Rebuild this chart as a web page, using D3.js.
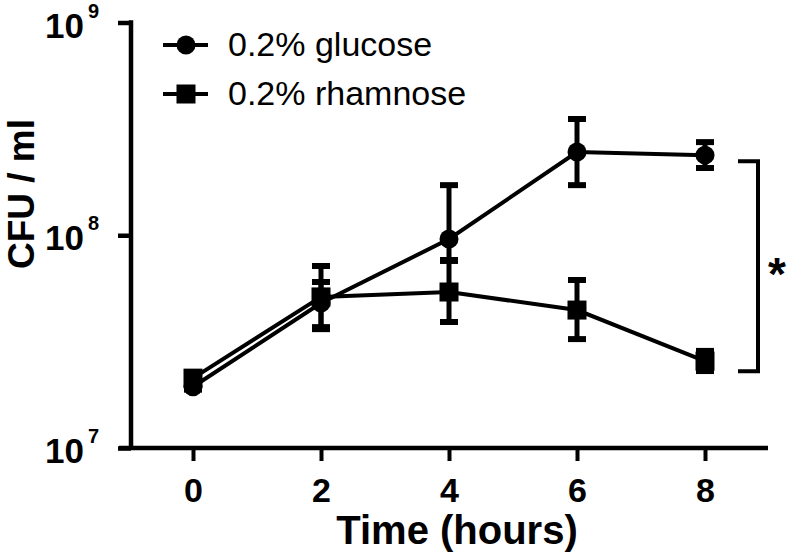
<!DOCTYPE html>
<html>
<head>
<meta charset="utf-8">
<script src="https://cdn.jsdelivr.net/npm/d3@7"></script>
<style>
  html, body { margin: 0; padding: 0; background: #fff; }
  svg { display: block; }
  text { font-family: "Liberation Sans", Arial, sans-serif; fill: #000; }
</style>
</head>
<body>
<svg id="chart" width="787" height="556"></svg>
<script>
// ---- data ----
const hours = [0, 2, 4, 6, 8];
const glucoseMean = [1.94e7, 4.8e7, 9.6e7, 2.46e8, 2.38e8];
const glucoseLow  = [1.88e7, 3.62e7, 7.65e7, 1.72e8, 2.07e8];
const glucoseHigh = [2.0e7, 6.03e7, 1.72e8, 3.52e8, 2.74e8];
const rhamnoseMean = [2.13e7, 5.13e7, 5.41e7, 4.45e7, 2.56e7];
const rhamnoseLow  = [2.08e7, 3.7e7, 3.91e7, 3.25e7, 2.30e7];
const rhamnoseHigh = [2.18e7, 7.17e7, 7.57e7, 6.16e7, 2.86e7];
const xTicks = [0, 2, 4, 6, 8];
const yTicks = [1e7, 1e8, 1e9];
const yTickExponents = ["7", "8", "9"];
const seriesNames = ["0.2% glucose", "0.2% rhamnose"];
const xTitle = "Time (hours)";
const yTitle = "CFU / ml";
const sigLabel = "*";

const svg = d3.select("#chart");
const x = d3.scaleLinear().domain([0, 8]).range([193, 705]);
const y = d3.scaleLog().domain([1e7, 1e9]).range([448, 22.5]);
const yAxisX = 131;
const axisW = 4.5;

// ---- x axis ----
const gx = svg.append("g").attr("transform", `translate(0,${y(1e7)})`)
  .call(d3.axisBottom(x).tickValues(xTicks).tickSize(13).tickSizeOuter(0).tickFormat(d3.format("d")));
gx.select(".domain").remove();
gx.selectAll(".tick line").attr("stroke", "#000").attr("stroke-width", 4);
gx.selectAll(".tick text").attr("y", 54).attr("dy", 0)
  .style("font-size", "34px").style("font-weight", "bold");
svg.append("line").attr("x1", 119).attr("x2", 768)
  .attr("y1", y(1e7)).attr("y2", y(1e7))
  .attr("stroke", "#000").attr("stroke-width", axisW);

// ---- y axis ----
const gy = svg.append("g").attr("transform", `translate(${yAxisX},0)`)
  .call(d3.axisLeft(y).tickValues(yTicks).tickSize(13).tickSizeOuter(0).tickFormat(() => ""));
gy.select(".domain").remove();
gy.selectAll(".tick line").attr("stroke", "#000").attr("stroke-width", axisW);
gy.selectAll(".tick text").remove();
svg.append("line").attr("x1", yAxisX).attr("x2", yAxisX)
  .attr("y1", y(1e9) - axisW / 2).attr("y2", y(1e7))
  .attr("stroke", "#000").attr("stroke-width", axisW);

yTicks.forEach((t, i) => {
  const yy = y(t);
  svg.append("text").attr("x", 84).attr("y", yy + 15).attr("text-anchor", "end")
    .style("font-size", "35px").style("font-weight", "bold").text("10");
  svg.append("text").attr("x", 88).attr("y", yy - 5).attr("text-anchor", "start")
    .style("font-size", "20px").style("font-weight", "bold").text(yTickExponents[i]);
});

// ---- titles ----
svg.append("text").attr("x", 457).attr("y", 544).attr("text-anchor", "middle")
  .style("font-size", "40px").style("font-weight", "bold").text(xTitle);
svg.append("text").attr("transform", "translate(34,194) rotate(-90)")
  .attr("text-anchor", "middle")
  .style("font-size", "37px").style("font-weight", "bold").text(yTitle);

// ---- series ----
const series = [
  { name: seriesNames[0], mean: glucoseMean, lo: glucoseLow, hi: glucoseHigh, shape: "circle" },
  { name: seriesNames[1], mean: rhamnoseMean, lo: rhamnoseLow, hi: rhamnoseHigh, shape: "square" }
];
const line = d3.line().x(d => x(d.h)).y(d => y(d.v));
const markR = 9.5, sq = 19, capW = 18;

series.forEach(s => {
  const pts = hours.map((h, i) => ({ h, v: s.mean[i], lo: s.lo[i], hi: s.hi[i] }));
  svg.append("path").datum(pts).attr("d", line)
    .attr("fill", "none").attr("stroke", "#000").attr("stroke-width", 4);
  const g = svg.append("g");
  pts.forEach(p => {
    g.append("line").attr("x1", x(p.h)).attr("x2", x(p.h))
      .attr("y1", y(p.hi)).attr("y2", y(p.lo))
      .attr("stroke", "#000").attr("stroke-width", 5);
    [p.hi, p.lo].forEach(v => {
      g.append("line").attr("x1", x(p.h) - capW / 2).attr("x2", x(p.h) + capW / 2)
        .attr("y1", y(v)).attr("y2", y(v))
        .attr("stroke", "#000").attr("stroke-width", 6);
    });
  });
  s.pts = pts;
});
series.forEach(s => {
  s.pts.forEach(p => {
    if (s.shape === "circle") {
      svg.append("circle").attr("cx", x(p.h)).attr("cy", y(p.v)).attr("r", markR).attr("fill", "#000");
    } else {
      svg.append("rect").attr("x", x(p.h) - sq / 2).attr("y", y(p.v) - sq / 2)
        .attr("width", sq).attr("height", sq).attr("fill", "#000");
    }
  });
});

// ---- legend ----
series.forEach((s, i) => {
  const ly = 45 + i * 49;
  svg.append("line").attr("x1", 163).attr("x2", 208).attr("y1", ly).attr("y2", ly)
    .attr("stroke", "#000").attr("stroke-width", 4);
  if (s.shape === "circle") {
    svg.append("circle").attr("cx", 186).attr("cy", ly).attr("r", markR).attr("fill", "#000");
  } else {
    svg.append("rect").attr("x", 186 - sq / 2).attr("y", ly - sq / 2)
      .attr("width", sq).attr("height", sq).attr("fill", "#000");
  }
  svg.append("text").attr("x", 228).attr("y", ly + 11)
    .style("font-size", "34px").text(s.name);
});

// ---- significance bracket ----
const bTop = y(glucoseMean[4]) + 6, bBot = y(rhamnoseMean[4]) + 10;
svg.append("path").attr("d", `M738,${bTop} H758 V${bBot} H738`)
  .attr("fill", "none").attr("stroke", "#000").attr("stroke-width", 4);
svg.append("text").attr("x", 777).attr("y", (bTop + bBot) / 2 + 24).attr("text-anchor", "middle")
  .style("font-size", "46px").style("font-weight", "bold").text(sigLabel);
</script>
</body>
</html>
